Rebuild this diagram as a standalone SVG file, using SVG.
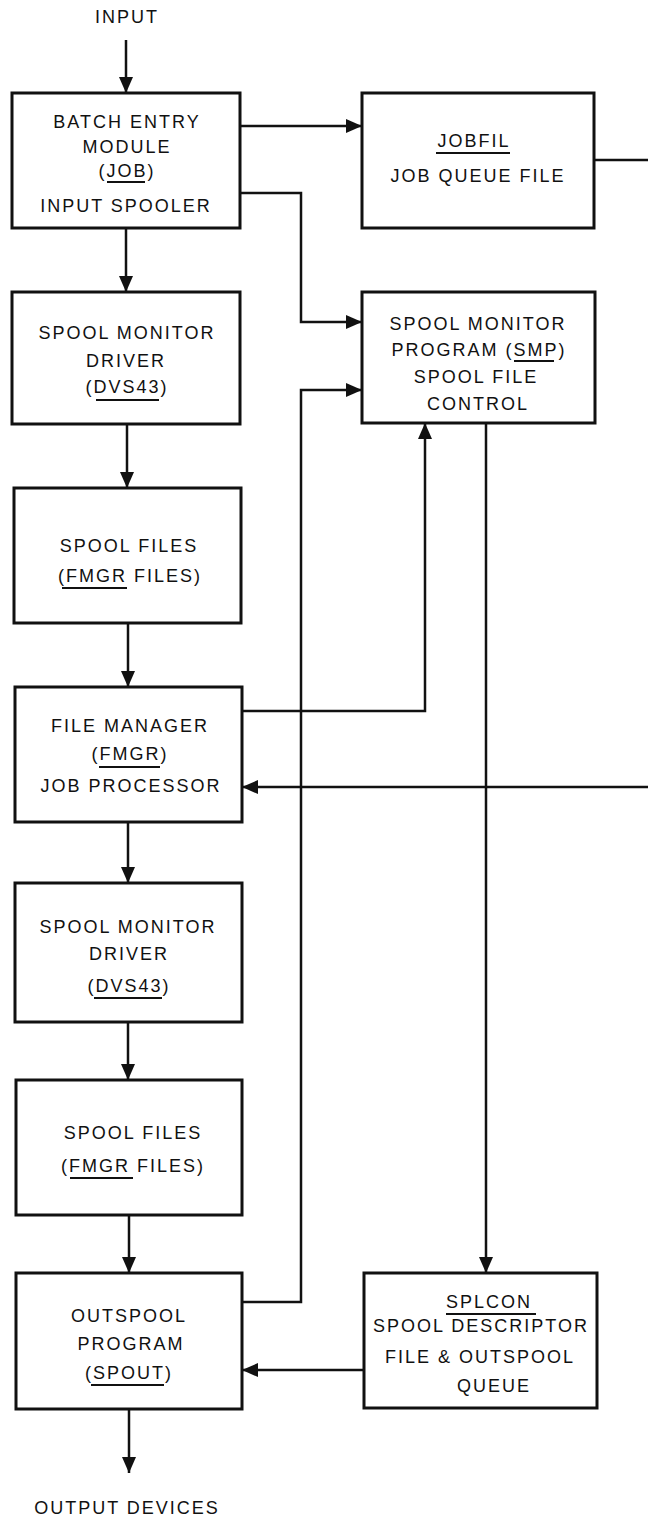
<svg xmlns="http://www.w3.org/2000/svg" width="648" height="1519" viewBox="0 0 648 1519">
  <style>
    .box { fill: #ffffff; stroke: #111111; stroke-width: 3; }
    .lbl { font-family: "Liberation Sans", Arial, sans-serif; font-size: 18px; letter-spacing: 2px; fill: #111111; text-anchor: middle; }
    .ul { stroke: #111111; stroke-width: 2; }
    .wire { fill: none; stroke: #111111; stroke-width: 2.5; }
  </style>
  <defs>
    <marker id="head" markerUnits="userSpaceOnUse" markerWidth="16" markerHeight="14" refX="16" refY="7" orient="auto">
      <path d="M0,0 L16,7 L0,14 Z" fill="#111111"/>
    </marker>
  </defs>

  <rect width="648" height="1519" fill="#ffffff"/>

  <!-- connectors -->
  <g id="connectors">
    <path class="wire" d="M126,40 V93" marker-end="url(#head)"/>
    <path class="wire" d="M240,126 H362" marker-end="url(#head)"/>
    <path class="wire" d="M594,160 H648"/>
    <path class="wire" d="M240,193 H301 V322 H362" marker-end="url(#head)"/>
    <path class="wire" d="M242,1302 H301 V390 H362" marker-end="url(#head)"/>
    <path class="wire" d="M126,228 V292" marker-end="url(#head)"/>
    <path class="wire" d="M127,424 V488" marker-end="url(#head)"/>
    <path class="wire" d="M128,623 V687" marker-end="url(#head)"/>
    <path class="wire" d="M242,711 H425 V423" marker-end="url(#head)"/>
    <path class="wire" d="M486,423 V1273" marker-end="url(#head)"/>
    <path class="wire" d="M648,787 H242" marker-end="url(#head)"/>
    <path class="wire" d="M128,822 V883" marker-end="url(#head)"/>
    <path class="wire" d="M128,1022 V1080" marker-end="url(#head)"/>
    <path class="wire" d="M129,1215 V1273" marker-end="url(#head)"/>
    <path class="wire" d="M364,1370 H242" marker-end="url(#head)"/>
    <path class="wire" d="M129,1409 V1473" marker-end="url(#head)"/>
  </g>

  <!-- end labels -->
  <g id="input">
    <text class="lbl" x="127" y="23">INPUT</text>
  </g>
  <g id="output">
    <text class="lbl" x="127" y="1514">OUTPUT DEVICES</text>
  </g>

  <!-- left column -->
  <g id="job">
    <rect class="box" x="12" y="93" width="228" height="135"/>
    <text class="lbl" x="127" y="128">BATCH ENTRY</text>
    <text class="lbl" x="127" y="153">MODULE</text>
    <text class="lbl" x="127" y="177">(JOB)</text>
    <line class="ul" x1="107" y1="182" x2="145" y2="182"/>
    <text class="lbl" x="126" y="212">INPUT SPOOLER</text>
  </g>

  <g id="dvs43-in">
    <rect class="box" x="12" y="292" width="228" height="132"/>
    <text class="lbl" x="127" y="339">SPOOL MONITOR</text>
    <text class="lbl" x="126" y="367">DRIVER</text>
    <text class="lbl" x="127" y="393">(DVS43)</text>
    <line class="ul" x1="96" y1="400" x2="159" y2="400"/>
  </g>

  <g id="spool-files-in">
    <rect class="box" x="14" y="488" width="227" height="135"/>
    <text class="lbl" x="129" y="552">SPOOL FILES</text>
    <text class="lbl" x="130" y="582">(FMGR FILES)</text>
    <line class="ul" x1="62" y1="588" x2="127" y2="588"/>
  </g>

  <g id="fmgr">
    <rect class="box" x="15" y="687" width="227" height="135"/>
    <text class="lbl" x="130" y="732">FILE MANAGER</text>
    <text class="lbl" x="130" y="760">(FMGR)</text>
    <line class="ul" x1="99" y1="767" x2="160" y2="767"/>
    <text class="lbl" x="131" y="792">JOB PROCESSOR</text>
  </g>

  <g id="dvs43-out">
    <rect class="box" x="15" y="883" width="227" height="139"/>
    <text class="lbl" x="128" y="933">SPOOL MONITOR</text>
    <text class="lbl" x="129" y="960">DRIVER</text>
    <text class="lbl" x="129" y="992">(DVS43)</text>
    <line class="ul" x1="94" y1="998" x2="162" y2="998"/>
  </g>

  <g id="spool-files-out">
    <rect class="box" x="16" y="1080" width="226" height="135"/>
    <text class="lbl" x="133" y="1139">SPOOL FILES</text>
    <text class="lbl" x="133" y="1172">(FMGR FILES)</text>
    <line class="ul" x1="70" y1="1178" x2="133" y2="1178"/>
  </g>

  <g id="spout">
    <rect class="box" x="16" y="1273" width="226" height="136"/>
    <text class="lbl" x="129" y="1322">OUTSPOOL</text>
    <text class="lbl" x="131" y="1350">PROGRAM</text>
    <text class="lbl" x="129" y="1379">(SPOUT)</text>
    <line class="ul" x1="91" y1="1385" x2="164" y2="1385"/>
  </g>

  <!-- right column -->
  <g id="jobfil">
    <rect class="box" x="362" y="93" width="232" height="135"/>
    <text class="lbl" x="474" y="147">JOBFIL</text>
    <line class="ul" x1="436" y1="153" x2="510" y2="153"/>
    <text class="lbl" x="478" y="182">JOB QUEUE FILE</text>
  </g>

  <g id="smp">
    <rect class="box" x="362" y="292" width="233" height="131"/>
    <text class="lbl" x="478" y="330">SPOOL MONITOR</text>
    <text class="lbl" x="479" y="356">PROGRAM (SMP)</text>
    <line class="ul" x1="514" y1="361" x2="554" y2="361"/>
    <text class="lbl" x="476" y="383">SPOOL FILE</text>
    <text class="lbl" x="478" y="410">CONTROL</text>
  </g>

  <g id="splcon">
    <rect class="box" x="364" y="1273" width="233" height="135"/>
    <text class="lbl" x="489" y="1308">SPLCON</text>
    <line class="ul" x1="446" y1="1314" x2="536" y2="1314"/>
    <text class="lbl" x="481" y="1332">SPOOL DESCRIPTOR</text>
    <text class="lbl" x="480" y="1363">FILE &amp; OUTSPOOL</text>
    <text class="lbl" x="494" y="1392">QUEUE</text>
  </g>
</svg>
